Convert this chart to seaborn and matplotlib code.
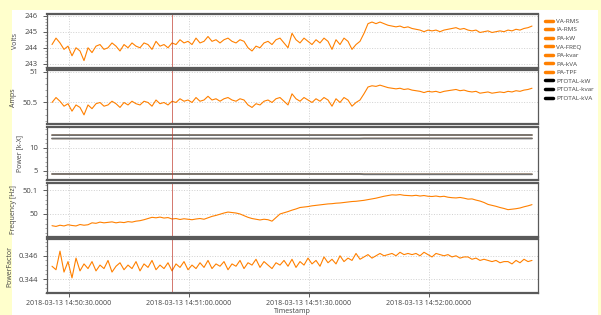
import pandas as pd
import matplotlib.pyplot as plt
import seaborn as sns
from matplotlib.lines import Line2D
from matplotlib.patches import Rectangle
import matplotlib.ticker as mticker

sns.set_theme(style="white")
plt.rcParams['font.family'] = ['Open Sans', 'DejaVu Sans']

# one sample per second
start = "2018-03-13 14:50:25.75"
n = 121

volts = [244.2, 244.6, 244.3, 243.9, 244.1, 243.5, 244.0, 243.8, 243.2, 244.0,
         243.7, 244.1, 244.2, 243.9, 244.0, 244.3, 244.1, 243.8, 244.2, 244.0,
         244.3, 244.1, 244.0, 244.3, 244.2, 243.9, 244.4, 244.1, 244.2, 244.0,
         244.3, 244.2, 244.5, 244.3, 244.4, 244.2, 244.6, 244.3, 244.4, 244.7,
         244.4, 244.5, 244.3, 244.5, 244.6, 244.4, 244.3, 244.5, 244.4, 244.0,
         243.8, 244.1, 244.0, 244.3, 244.4, 244.2, 244.5, 244.6, 244.3, 244.0,
         244.9, 244.5, 244.3, 244.6, 244.4, 244.2, 244.5, 244.3, 244.6, 244.4,
         243.9, 244.5, 244.2, 244.6, 244.4, 243.9, 244.2, 244.4, 244.9, 245.5,
         245.6, 245.5, 245.6, 245.5, 245.4, 245.35, 245.3, 245.35, 245.25, 245.3,
         245.2, 245.15, 245.1, 245.0, 245.1, 245.05, 245.1, 245.0, 245.1, 245.15,
         245.2, 245.25, 245.15, 245.2, 245.1, 245.05, 245.1, 244.95, 245.0, 245.05,
         244.95, 245.0, 245.05, 245.0, 245.1, 245.05, 245.15, 245.1, 245.2, 245.25, 245.35]

amps = [50.50, 50.58, 50.52, 50.44, 50.48, 50.36, 50.46, 50.42, 50.30, 50.46,
        50.40, 50.48, 50.50, 50.44, 50.46, 50.52, 50.48, 50.42, 50.50, 50.46,
        50.52, 50.48, 50.46, 50.52, 50.50, 50.44, 50.54, 50.48, 50.50, 50.46,
        50.52, 50.50, 50.56, 50.52, 50.54, 50.50, 50.58, 50.52, 50.54, 50.60,
        50.54, 50.56, 50.52, 50.56, 50.58, 50.54, 50.52, 50.56, 50.54, 50.46,
        50.42, 50.48, 50.46, 50.52, 50.54, 50.50, 50.56, 50.58, 50.52, 50.46,
        50.64, 50.56, 50.52, 50.58, 50.54, 50.50, 50.56, 50.52, 50.58, 50.54,
        50.44, 50.56, 50.50, 50.58, 50.54, 50.44, 50.50, 50.54, 50.64, 50.75,
        50.77, 50.76, 50.78, 50.76, 50.74, 50.73, 50.72, 50.73, 50.71, 50.72,
        50.70, 50.69, 50.68, 50.66, 50.68, 50.67, 50.68, 50.66, 50.68, 50.69,
        50.70, 50.71, 50.69, 50.70, 50.68, 50.67, 50.68, 50.65, 50.66, 50.67,
        50.65, 50.66, 50.67, 50.66, 50.68, 50.67, 50.69, 50.68, 50.70, 50.71, 50.73]

freq = [49.951, 49.948, 49.953, 49.950, 49.955, 49.952, 49.950, 49.956, 49.953, 49.955,
        49.963, 49.961, 49.966, 49.963, 49.965, 49.967, 49.963, 49.966, 49.964, 49.968,
        49.966, 49.970, 49.972, 49.976, 49.981, 49.986, 49.984, 49.987, 49.983, 49.985,
        49.979, 49.981, 49.977, 49.980, 49.978, 49.976, 49.979, 49.981, 49.978, 49.984,
        49.990, 49.994, 49.999, 50.004, 50.008, 50.006, 50.004, 50.000, 49.993, 49.986,
        49.981, 49.978, 49.975, 49.978, 49.976, 49.970, 49.985, 50.000, 50.005, 50.010,
        50.016, 50.021, 50.027, 50.029, 50.031, 50.034, 50.036, 50.038, 50.040, 50.042,
        50.043, 50.045, 50.046, 50.048, 50.050, 50.052, 50.053, 50.055, 50.057, 50.060,
        50.063, 50.066, 50.070, 50.074, 50.077, 50.080, 50.079, 50.081, 50.078, 50.077,
        50.076, 50.078, 50.075, 50.077, 50.074, 50.073, 50.075, 50.072, 50.074, 50.070,
        50.068, 50.067, 50.069, 50.066, 50.062, 50.063, 50.058, 50.054, 50.048, 50.040,
        50.036, 50.032, 50.027, 50.023, 50.018, 50.020, 50.022, 50.025, 50.030, 50.034, 50.039]

tpf = [0.3451, 0.3448, 0.3464, 0.3446, 0.3455, 0.3441, 0.3458, 0.3447, 0.3453, 0.3449,
       0.3455, 0.3447, 0.3452, 0.3449, 0.3456, 0.3446, 0.3451, 0.3454, 0.3448, 0.3452,
       0.3449, 0.3455, 0.3447, 0.3453, 0.3450, 0.3456, 0.3448, 0.3452, 0.3449, 0.3454,
       0.3447, 0.3453, 0.3450, 0.3455, 0.3448, 0.3452, 0.3449, 0.3454, 0.3450, 0.3456,
       0.3449, 0.3453, 0.3451, 0.3455, 0.3448, 0.3453, 0.3451, 0.3456, 0.3449, 0.3454,
       0.3452, 0.3457, 0.3450, 0.3455, 0.3452, 0.3449, 0.3454, 0.3452, 0.3456, 0.3451,
       0.3457, 0.3450, 0.3455, 0.3452, 0.3458, 0.3453, 0.3456, 0.3451, 0.3459, 0.3454,
       0.3457, 0.3453, 0.3460, 0.3455, 0.3458, 0.3456, 0.3462, 0.3457, 0.3459, 0.3461,
       0.3458, 0.3460, 0.3462, 0.3460, 0.3461, 0.3462, 0.3460, 0.3463, 0.3461, 0.3462,
       0.3461, 0.3462, 0.3460, 0.3463, 0.3461, 0.3459, 0.3462, 0.3461, 0.3460, 0.3461,
       0.3459, 0.3460, 0.3458, 0.3459, 0.3459, 0.3457, 0.3458, 0.3456, 0.3457, 0.3456,
       0.3455, 0.3456, 0.3454, 0.3455, 0.3455, 0.3453, 0.3456, 0.3454, 0.3457, 0.3455, 0.3456]

# power lines are flat, with a small step at the jump (sample 78)
kw = [4.30] * 78 + [4.24] * 43
kvar = [12.00] * 78 + [12.02] * 43
kva = [12.75] * 78 + [12.77] * 43

tick_times = ["2018-03-13 14:50:30", "2018-03-13 14:51:00",
              "2018-03-13 14:51:30", "2018-03-13 14:52:00"]
tick_labels = ["2018-03-13 14:50:30.0000", "2018-03-13 14:51:00.0000",
               "2018-03-13 14:51:30.0000", "2018-03-13 14:52:00.0000"]
cursor_time = "2018-03-13 14:50:55.75"
legend_names = ["VA-RMS", "IA-RMS", "PA-kW", "VA-FREQ", "PA-kvar", "PA-kVA", "PA-TPF",
                "PTOTAL-kW", "PTOTAL-kvar", "PTOTAL-kVA"]

df = pd.DataFrame({"Timestamp": pd.date_range(start, periods=n, freq="1s"),
                   "VA-RMS": volts, "IA-RMS": amps, "VA-FREQ": freq, "PA-TPF": tpf,
                   "PA-kW": kw, "PA-kvar": kvar, "PA-kVA": kva,
                   "PTOTAL-kW": kw, "PTOTAL-kvar": kvar, "PTOTAL-kVA": kva})

ORANGE = "#ff8000"
YELLOW = "#ffffcc"

fig = plt.figure(figsize=(6.01, 3.15), dpi=100, facecolor=YELLOW)
fig.patches.append(Rectangle((12 / 601, 0), 586 / 601, 1 - 10 / 315,
                             transform=fig.transFigure, facecolor="white",
                             edgecolor="none", zorder=-1))
gs = fig.add_gridspec(5, 1, left=47 / 601, right=538 / 601, top=1 - 14 / 315,
                      bottom=1 - 293 / 315, hspace=0.045)
axes = [fig.add_subplot(gs[i]) for i in range(5)]
for ax in axes[1:]:
    ax.sharex(axes[0])

panels = [
    (["VA-RMS"], "Volts", (242.75, 246.1), [243, 244, 245, 246]),
    (["IA-RMS"], "Amps", (50.15, 51.02), [50.5, 51]),
    (["PA-kW", "PA-kvar", "PA-kVA", "PTOTAL-kW", "PTOTAL-kvar", "PTOTAL-kVA"],
     "Power [k-X]", (2.9, 14.6), [5, 10]),
    (["VA-FREQ"], "Frequency [Hz]", (49.905, 50.13), [50.0, 50.1]),
    (["PA-TPF"], "PowerFactor", (0.3428, 0.34743), [0.344, 0.346]),
]

for ax, (cols, label, ylim, yticks) in zip(axes, panels):
    ax.set_facecolor("white")
    for c in cols:
        if c.startswith("PTOTAL"):
            # black totals sit on top of the (identical) per-phase lines
            sns.lineplot(data=df, x="Timestamp", y=c, ax=ax, color="#707070", lw=1.3)
        else:
            sns.lineplot(data=df, x="Timestamp", y=c, ax=ax, color=ORANGE, lw=0.8)
    ax.axvline(pd.Timestamp(cursor_time), color="#c0392b", lw=0.6, alpha=0.8)
    ax.set_ylim(*ylim)
    ax.set_yticks(yticks)
    ax.yaxis.set_major_formatter(mticker.FormatStrFormatter('%g'))
    ax.yaxis.set_minor_locator(mticker.AutoMinorLocator(5))
    ax.set_ylabel(label, fontsize=5, color="#444444", labelpad=4)
    ax.grid(True, which="major", color="#d0d0d0", ls=":", lw=0.7)
    ax.tick_params(axis="y", which="major", labelsize=5.5, colors="#444444", length=3, width=0.6, left=True)
    ax.tick_params(axis="y", which="minor", length=1.5, width=0.4, colors="#666666", left=True)
    for s in ["top", "bottom"]:
        ax.spines[s].set_linewidth(1.6)
        ax.spines[s].set_color("#5a5a5a")
    for s in ["left", "right"]:
        ax.spines[s].set_linewidth(0.9)
        ax.spines[s].set_color("#5a5a5a")
    ax.set_xlabel("")

ticks = pd.to_datetime(tick_times)
axes[0].set_xlim(pd.Timestamp("2018-03-13 14:50:24.5"), pd.Timestamp("2018-03-13 14:52:27.25"))
for ax in axes:
    ax.set_xticks(ticks)
for ax in axes[:-1]:
    ax.tick_params(axis="x", labelbottom=False, bottom=False)
axes[-1].set_xticklabels(tick_labels)
axes[-1].tick_params(axis="x", labelsize=5, colors="#444444", length=3, width=0.6, bottom=True, pad=2)
axes[-1].set_xlabel("Timestamp", fontsize=5, color="#444444", labelpad=0.5)

handles = [Line2D([], [], color=ORANGE if not nm.startswith("PTOTAL") else "black", lw=2.5)
           for nm in legend_names]
fig.legend(handles, legend_names, loc="upper left", bbox_to_anchor=(541 / 601, 1 - 14 / 315),
           frameon=False, fontsize=4.6, handlelength=1.2, handletextpad=0.5, labelspacing=0.48,
           labelcolor="#444444", borderaxespad=0.3)

plt.savefig("out.png", dpi=100, facecolor=YELLOW)
